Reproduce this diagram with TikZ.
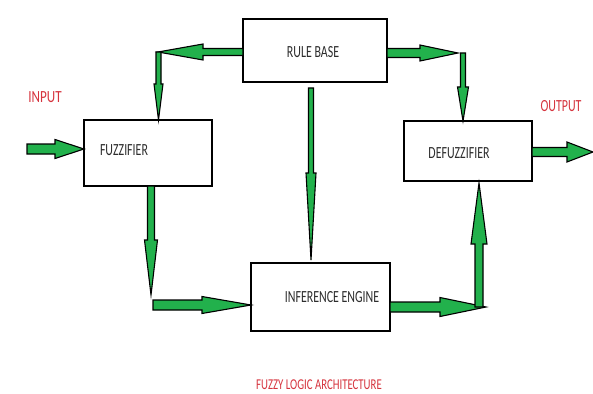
\documentclass[tikz,border=0pt]{standalone}
\usepackage{fontspec}
\setmainfont{Carlito}
\usetikzlibrary{calc}

\definecolor{arrowgreen}{RGB}{34,177,76}
\definecolor{labelred}{RGB}{214,52,62}
\definecolor{textgray}{RGB}{45,45,45}

% block arrow: from, to, shaft half-width, head half-width, head length
\newcommand\fatarrow[5]{%
  \coordinate (fa-h) at ($(#2)!#5!(#1)$);
  \filldraw[blockarrow]
    ($(#1)!#3!90:(#2)$) -- ($(fa-h)!#3!90:(#2)$) -- ($(fa-h)!#4!90:(#2)$)
    -- (#2)
    -- ($(fa-h)!#4!-90:(#2)$) -- ($(fa-h)!#3!-90:(#2)$) -- ($(#1)!#3!-90:(#2)$)
    -- cycle;
}
\newcommand\narrowtext[2][0.7]{\scalebox{#1}[1]{#2}}

\tikzset{
  box/.style={draw=black, line width=2.4pt, fill=white, inner sep=0pt, outer sep=0pt},
  blockarrow/.style={draw=black, fill=arrowgreen, line width=1.1pt, line join=miter},
  boxtext/.style={text=textgray, inner sep=0pt, font=\fontsize{17}{17}\selectfont},
  redtext/.style={text=labelred, inner sep=0pt, font=\fontsize{17}{17}\selectfont},
}

\begin{document}
\begin{tikzpicture}[x=1pt,y=-1pt]
\useasboundingbox[fill=white] (0,0) rectangle (593,393);

% blocks
\node[box, minimum width=144pt, minimum height=63pt] (rb) at (315,50.5) {};
\node[box, minimum width=128pt, minimum height=66pt] (fz) at (148,153) {};
\node[box, minimum width=128pt, minimum height=60pt] (df) at (468,151) {};
\node[box, minimum width=139pt, minimum height=68pt] (ie) at (320.5,297) {};

% block captions
\node[boxtext] (rbt) at (313,52) {\narrowtext{RULE BASE}};
\node[boxtext] (fzt) at (124,150) {\narrowtext{FUZZIFIER}};
\node[boxtext] (dft) at (459,153) {\narrowtext{DEFUZZIFIER}};
\node[boxtext] (iet) at (332,297) {\narrowtext{INFERENCE ENGINE}};

% side labels
\node[redtext] (inl) at (45,97) {\narrowtext[0.77]{INPUT}};
\node[redtext] (outl) at (561,106) {\narrowtext{OUTPUT}};
\node[redtext, font=\fontsize{15}{15}\selectfont] (cap) at (319,385) {\narrowtext[0.72]{FUZZY LOGIC ARCHITECTURE}};

% routing points
\coordinate (kL) at (158.5,52);
\coordinate (kLt) at (158,52);
\coordinate (kR) at (463,53);
\coordinate (kRt) at (458,53);
\coordinate (kF) at (151,295);
\coordinate (kF2) at (153,305);
\coordinate (kM) at (311,88);
\coordinate (kMt) at (311,260);
\coordinate (kD) at (479,307);
\coordinate (kDt) at (486,307);
\coordinate (inS) at (27,149);
\coordinate (outE) at (593,152);

\coordinate (a1) at (rb.west |- kLt);
\coordinate (b2) at (kL |- fz.north);
\coordinate (a3) at (rb.east |- kRt);
\coordinate (b4) at (kR |- df.north);
\coordinate (b5) at (inS -| fz.west);
\coordinate (a6) at (df.east |- outE);
\coordinate (a7) at (fz.south -| kF);
\coordinate (b8) at (kF2 -| ie.west);
\coordinate (a10) at (ie.east |- kD);
\coordinate (b11) at ($(kD |- df.south)+(0,2)$);

% connectors
\fatarrow{a1}{kLt}{3.5pt}{8pt}{45pt}
\fatarrow{kL}{b2}{2.5pt}{4.5pt}{36pt}
\fatarrow{a3}{kRt}{4.5pt}{8pt}{38pt}
\fatarrow{kR}{b4}{2.5pt}{5.5pt}{34pt}
\fatarrow{inS}{b5}{5pt}{9.5pt}{29pt}
\fatarrow{a6}{outE}{4.5pt}{10pt}{26pt}
\fatarrow{a7}{kF}{3.5pt}{6.5pt}{55pt}
\fatarrow{kF2}{b8}{5pt}{8.5pt}{49pt}
\fatarrow{kM}{kMt}{2.5pt}{5pt}{87pt}
\fatarrow{a10}{kDt}{5pt}{9.5pt}{46pt}
\fatarrow{kD}{b11}{4pt}{8pt}{61pt}
\end{tikzpicture}
\end{document}
